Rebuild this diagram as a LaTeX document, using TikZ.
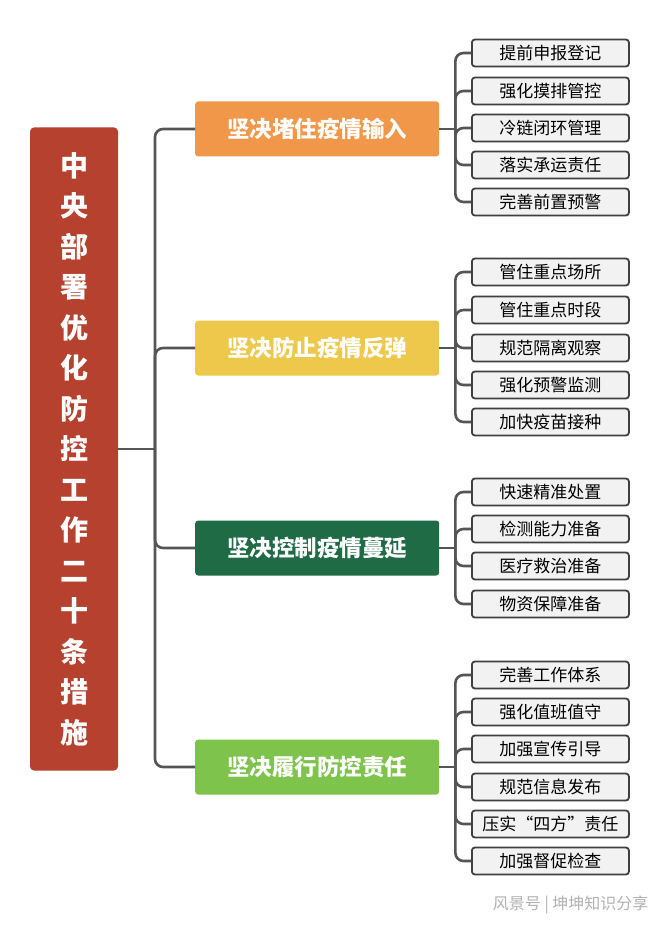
\documentclass[tikz,border=0pt]{standalone}
\usepackage{fontspec}
\setmainfont{Noto Sans CJK SC}
\definecolor{rootc}{HTML}{B5412E}
\definecolor{c1}{HTML}{F0974A}
\definecolor{c2}{HTML}{EDC84B}
\definecolor{c3}{HTML}{1F6B45}
\definecolor{c4}{HTML}{7EC34C}
\definecolor{ln}{HTML}{555555}
\begin{document}
\begin{tikzpicture}[x=1pt,y=-1pt,
  leaf/.style={draw=black!75,line width=1.8pt,fill=black!5,rounded corners=3pt,minimum width=157pt,minimum height=27pt,inner sep=0pt,font=\fontsize{17}{18}\selectfont,anchor=west},
  mainb/.style={rounded corners=3pt,minimum width=244pt,minimum height=55pt,inner sep=0pt,text=white,font=\bfseries\fontsize{22.5}{24}\selectfont,anchor=west},
  con/.style={draw=ln,line width=2.6pt,rounded corners=8pt}]
\useasboundingbox (0,0) rectangle (660,925);
\fill[white] (0,0) rectangle (660,925);
\node[fill=rootc,rounded corners=4pt,minimum width=88pt,minimum height=643pt,inner sep=0pt,text=white,font=\bfseries\fontsize{28}{40.5}\selectfont,align=center] (root) at (74,449)
 {中\\央\\部\\署\\优\\化\\防\\控\\工\\作\\二\\十\\条\\措\\施};
\node[mainb,fill=c1] (m1) at (195,129) {坚决堵住疫情输入};
\node[mainb,fill=c2] (m2) at (195,348) {坚决防止疫情反弹};
\node[mainb,fill=c3] (m3) at (195,548) {坚决控制疫情蔓延};
\node[mainb,fill=c4] (m4) at (195,767) {坚决履行防控责任};
\coordinate (t) at (155,449);
\draw[con] (root.east) -- (t);
\foreach \m in {m1,m2,m3,m4}{\draw[con] (t) |- (\m.west);}
\foreach \m/\list in {m1/{53/提前申报登记,91/强化摸排管控,128/冷链闭环管理,165/落实承运责任,202/完善前置预警},
  m2/{272/管住重点场所,310/管住重点时段,348/规范隔离观察,385/强化预警监测,422/加快疫苗接种},
  m3/{492/快速精准处置,529/检测能力准备,566/医疗救治准备,604/物资保障准备},
  m4/{675/完善工作体系,712/强化值班值守,749/加强宣传引导,787/规范信息发布,824/压实“四方”责任,861/加强督促检查}}{
  \draw[con] (\m.east) -- ++(16,0) coordinate (tt\m);
  \foreach \y/\txt in \list {
    \node[leaf] (L\m\y) at (471,\y) {\txt};
    \draw[con] (tt\m) |- (L\m\y.west);
  }
}
\node[text=black!30,font=\fontsize{16}{17}\selectfont,anchor=east] (wm) at (652,905) {风景号 | 坤坤知识分享};
\end{tikzpicture}
\end{document}
